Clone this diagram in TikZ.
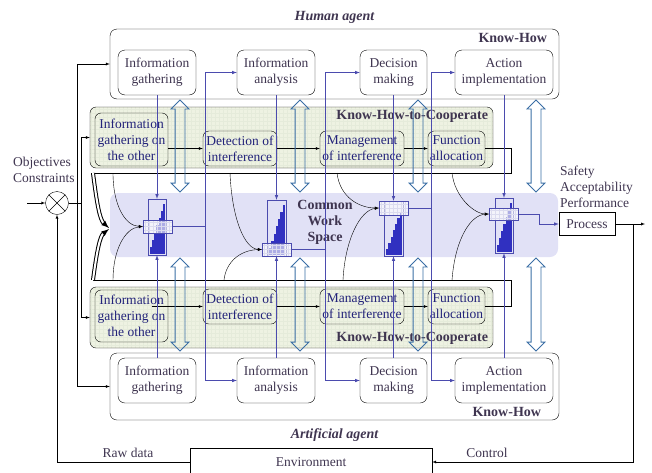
\documentclass[tikz,border=0pt]{standalone}
\usepackage{fontspec}
\setmainfont{Liberation Serif}
\usetikzlibrary{positioning, shapes.arrows, arrows}
\definecolor{inkgray}{HTML}{3F3550}
\definecolor{inkblue}{HTML}{23237A}
\definecolor{linkblue}{HTML}{4B4BAE}
\definecolor{cwsfill}{HTML}{E1E1F6}
\definecolor{coopfill}{HTML}{EEF2E2}
\definecolor{gridgreen}{HTML}{E5EBDA}
\definecolor{storeblue}{HTML}{3030C0}
\definecolor{steel}{HTML}{3A6EA5}
\newcommand\cwsstairs[4]{\foreach \i in {0,...,6}{\fill[storeblue] ({#1+\i*(#2-#1)/7},#4) rectangle ({#1+(\i+1)*(#2-#1)/7},{#4-(\i+1)*(#4-#3)/7});}}
\tikzset{>=latex,
  every node/.style={font=\fontsize{13.5}{16}\selectfont, align=center, inner sep=1pt},
  wh/.style 2 args={minimum width=#1, minimum height=#2},
  khow/.style={draw, rounded corners=7pt, inner sep=0},
  kbox/.style={draw, rounded corners=7pt, fill=white, text=inkgray, inner sep=0},
  coop/.style={draw, rounded corners=6pt, fill=coopfill, inner sep=0,
    path picture={\draw[gridgreen, ultra thin] (path picture bounding box.south west) grid[step=4pt] (path picture bounding box.north east);}},
  cbox/.style={draw, rounded corners=6pt, text=inkblue, inner sep=0},
  khlabel/.style={font=\fontsize{14}{16}\selectfont\bfseries, text=inkgray},
  agent/.style={font=\fontsize{14}{16}\selectfont\bfseries\itshape, text=inkgray},
  cws/.style={fill=cwsfill, rounded corners=8pt, inner sep=0},
  store/.style={draw=linkblue, inner sep=0},
  lens/.style={draw=linkblue, fill=white, fill opacity=0.6, inner sep=0,
    path picture={\draw[linkblue!20, very thin] (path picture bounding box.south west) grid[step=4pt] (path picture bounding box.north east);}},
  link/.style={draw=linkblue, semithick},
  dblarrow/.style={double arrow, draw=steel, thick, rotate=90, inner sep=4.5pt, minimum width=16, double arrow head extend=4pt},
  bracket/.style={double, double distance=2pt, line width=1pt, ->},
  plain/.style={text=inkgray}
}

\begin{document}
\begin{tikzpicture}[x=1pt, y=-1pt]
\useasboundingbox (0,0) rectangle (652,472);

\node[cws, wh={448}{64}] (cws) at (334,225) {};
\node[khlabel] (cwsl) at (325,222) {Common\\Work\\Space};

\node[khow, wh={449}{70}] (khT) at (334.5,64) {};
\node[agent, above=4pt of khT] (human) {Human agent};
\node[khlabel, below left=3pt and 11pt of khT.north east] (khTl) {Know-How};
\node[kbox, wh={78}{45}] (igT) at (157,72.5) {Information\\gathering};
\node[kbox, wh={78}{45}] (iaT) at (276,72.5) {Information\\analysis};
\node[kbox, wh={67}{45}] (dmT) at (393.5,72.5) {Decision\\making};
\node[kbox, wh={98}{45}] (aiT) at (504,72.5) {Action\\implementation};

\node[coop, wh={403}{61}] (khcT) at (291.5,137.5) {};
\node[khlabel, below left=2pt and 4pt of khcT.north east] (khcTl) {Know-How-to-Cooperate};
\node[cbox, wh={73}{53}] (igoT) at (131.5,139.5) {Information\\gathering on\\the other};
\node[cbox, wh={74}{35}] (detT) at (240,148.5) {Detection of\\interference};
\node[cbox, wh={84}{35}] (mgtT) at (362,148.5) {Management\\of interference};
\node[cbox, wh={57}{35}] (faT) at (456.5,148.5) {Function\\allocation};

\node[coop, wh={403}{61}] (khcB) at (291.5,317.5) {};
\node[khlabel, above left=3pt and 4pt of khcB.south east] (khcBl) {Know-How-to-Cooperate};
\node[cbox, wh={73}{52}] (igoB) at (131.5,316) {Information\\gathering on\\the other};
\node[cbox, wh={74}{35}] (detB) at (240,306.5) {Detection of\\interference};
\node[cbox, wh={84}{35}] (mgtB) at (362,306.5) {Management\\of interference};
\node[cbox, wh={57}{35}] (faB) at (456.5,306.5) {Function\\allocation};

\node[khow, wh={449}{67}] (khB) at (334.5,386.5) {};
\node[agent, below=7pt of khB] (artificial) {Artificial agent};
\node[khlabel, above left=2pt and 17pt of khB.south east] (khBl) {Know-How};
\node[kbox, wh={78}{45}] (igB) at (157,380.5) {Information\\gathering};
\node[kbox, wh={78}{45}] (iaB) at (276,380.5) {Information\\analysis};
\node[kbox, wh={67}{45}] (dmB) at (393.5,380.5) {Decision\\making};
\node[kbox, wh={98}{45}] (aiB) at (504,380.5) {Action\\implementation};

\draw[->] (igoT.east |- detT) -- (detT);
\draw[->] (detT) -- (mgtT);
\draw[->] (mgtT) -- (faT);
\draw[->] ([xshift=20pt]igoB.center |- detB) -- (detB);
\draw[->] (detB) -- (mgtB);
\draw[->] (mgtB) -- (faB);

\coordinate (fbT) at (93,173);
\coordinate (fbB) at (93,280);
\draw (faT.east) -| (511,173) -- (fbT);
\draw (faB.east) -| (511,280) -- (fbB);

\node[store, wh={18}{56}] (s1) at (157,227) {};
\node[store, wh={19}{56}] (s2) at (276.5,228) {};
\node[store, wh={19}{55}] (s3) at (393.5,228.5) {};
\node[store, wh={18}{55}] (s4) at (504,225.5) {};
\cwsstairs{150}{165}{204}{254}
\cwsstairs{269}{285}{205}{255}
\cwsstairs{386}{402}{212}{255}
\cwsstairs{497}{512}{203}{252}
\node[lens, wh={29}{13}] (l1) at (157.5,226.5) {};
\node[lens, wh={29}{13}] (l2) at (276.5,249.5) {};
\node[lens, wh={29}{14}] (l3) at (393.5,208) {};
\node[lens, wh={29}{12}] (l4) at (503.5,214) {};

\draw[->] (113,173) .. controls (113,205) and (125,226) .. (l1.west);
\draw[->] (113,280) .. controls (113,250) and (125,228) .. (l1.west);
\draw[->] (230,173) .. controls (232,220) and (245,249) .. (l2.west);
\draw[->] (224,280) .. controls (226,262) and (240,250) .. (l2.west);
\draw[->] (337,173) .. controls (340,198) and (360,208) .. (l3.west);
\draw[->] (343,280) .. controls (345,240) and (360,210) .. (l3.west);
\draw[->] (452,173) .. controls (455,198) and (475,214) .. (l4.west);
\draw[->] (452,280) .. controls (455,240) and (470,215) .. (l4.west);
\draw[bracket] (fbT) .. controls (97,205) and (100,220) .. (109,228);
\draw[bracket] (fbB) .. controls (97,250) and (100,236) .. (109,229);

\foreach \k/\s in {igT/s1, iaT/s2, dmT/s3, aiT/s4}
  \draw[link,->] (\k.south -| \s) -- (\s.north);
\foreach \k/\s in {igB/s1, iaB/s2, dmB/s3, aiB/s4}
  \draw[link,->] (\k.north -| \s) -- (\s.south);

\coordinate (j1) at (205,226.5);
\coordinate (j2) at (325,249.5);
\coordinate (j3) at (431,208);
\draw[link] (l1.east) -- (j1);
\draw[link,->] (j1) |- (iaT);
\draw[link,->] (j1) |- (iaB);
\draw[link] (l2.east) -- (j2);
\draw[link,->] (j2) |- (dmT);
\draw[link,->] (j2) |- (dmB);
\draw[link] (l3.east) -- (j3);
\draw[link,->] (j3) |- (aiT);
\draw[link,->] (j3) |- (aiB);

\foreach \x [count=\n] in {180,300,418,536}{
  \node[dblarrow, minimum height=92] (hT\n) at (\x,146) {};
  \node[dblarrow, minimum height=93] (hB\n) at (\x,304.5) {};
}

\node[draw, wh={56}{23}, plain] (proc) at (587,224) {Process};
\node[plain, align=left, anchor=west] (goals) at (559,187) {Safety\\Acceptability\\Performance};
\draw[link,->] (l4.east) -- ++(21,0) |- (proc);

\node[draw, circle, minimum size=23, inner sep=0] (sum) at (57,203) {};
\draw (sum.north west) -- (sum.south east) (sum.north east) -- (sum.south west);
\node[plain, align=left, anchor=west] (obj) at (12,170) {Objectives\\Constraints};
\coordinate (objin) at (27,203);
\draw[->] (objin) -- (sum);
\coordinate (fork) at (77,203);
\draw (sum) -- (fork);
\draw[->] (fork) |- (khT);
\draw[->] (fork) |- (khB);
\draw[->] (fork) -- ++(4,0) |- (khcT);
\draw[->] (fork) -- ++(4,0) |- (khcB);

\node[draw, wh={242}{28}, plain] (env) at (311,462) {Environment};
\coordinate (out) at (645,224);
\coordinate (tap) at (633,224);
\draw[->] (proc) -- (out);
\draw[->] (tap) |- (env);
\node[plain] (ctrl) at (487,453) {Control};
\draw[->] (env) -| (sum);
\node[plain] (raw) at (128,453) {Raw data};
\end{tikzpicture}
\end{document}
